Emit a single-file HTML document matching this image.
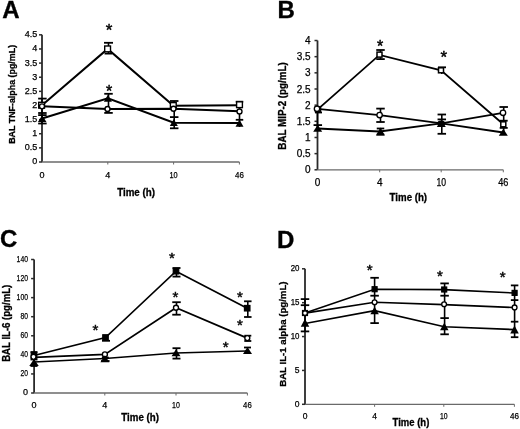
<!DOCTYPE html>
<html><head><meta charset="utf-8"><style>
html,body{margin:0;padding:0;background:#fff;}
body{width:520px;height:429px;overflow:hidden;}
svg{display:block;font-family:'Liberation Sans', sans-serif;will-change:transform;}
.tl{stroke:#000;stroke-width:0.25px;}
</style></head><body>
<svg width="520" height="429" viewBox="0 0 520 429">
<rect width="520" height="429" fill="#fff"/>
<text x="2.2" y="18.4" font-size="24" font-weight="bold" stroke="#000" stroke-width="0.35">A</text>
<line x1="42" y1="34.8" x2="42" y2="162" stroke="#2a2a2a" stroke-width="1.8"/>
<line x1="39" y1="162.0" x2="42" y2="162.0" stroke="#2a2a2a" stroke-width="1.5"/>
<text x="37.2" y="164.44" font-size="9" text-anchor="end" class="tl">0</text>
<line x1="39" y1="147.87" x2="42" y2="147.87" stroke="#2a2a2a" stroke-width="1.5"/>
<text x="37.2" y="150.31" font-size="9" text-anchor="end" class="tl">0.5</text>
<line x1="39" y1="133.74" x2="42" y2="133.74" stroke="#2a2a2a" stroke-width="1.5"/>
<text x="37.2" y="136.18" font-size="9" text-anchor="end" class="tl">1</text>
<line x1="39" y1="119.61" x2="42" y2="119.61" stroke="#2a2a2a" stroke-width="1.5"/>
<text x="37.2" y="122.05" font-size="9" text-anchor="end" class="tl">1.5</text>
<line x1="39" y1="105.48" x2="42" y2="105.48" stroke="#2a2a2a" stroke-width="1.5"/>
<text x="37.2" y="107.92" font-size="9" text-anchor="end" class="tl">2</text>
<line x1="39" y1="91.35" x2="42" y2="91.35" stroke="#2a2a2a" stroke-width="1.5"/>
<text x="37.2" y="93.79" font-size="9" text-anchor="end" class="tl">2.5</text>
<line x1="39" y1="77.22" x2="42" y2="77.22" stroke="#2a2a2a" stroke-width="1.5"/>
<text x="37.2" y="79.66" font-size="9" text-anchor="end" class="tl">3</text>
<line x1="39" y1="63.09" x2="42" y2="63.09" stroke="#2a2a2a" stroke-width="1.5"/>
<text x="37.2" y="65.53" font-size="9" text-anchor="end" class="tl">3.5</text>
<line x1="39" y1="48.96" x2="42" y2="48.96" stroke="#2a2a2a" stroke-width="1.5"/>
<text x="37.2" y="51.40" font-size="9" text-anchor="end" class="tl">4</text>
<line x1="39" y1="34.83" x2="42" y2="34.83" stroke="#2a2a2a" stroke-width="1.5"/>
<text x="37.2" y="37.27" font-size="9" text-anchor="end" class="tl">4.5</text>
<line x1="42" y1="162" x2="239.4" y2="162" stroke="#6a6a6a" stroke-width="1.3"/>
<line x1="107.8" y1="162" x2="107.8" y2="164.5" stroke="#6a6a6a" stroke-width="1"/>
<line x1="173.6" y1="162" x2="173.6" y2="164.5" stroke="#6a6a6a" stroke-width="1"/>
<line x1="239.4" y1="162" x2="239.4" y2="164.5" stroke="#6a6a6a" stroke-width="1"/>
<text x="42" y="177.5" font-size="9" text-anchor="middle" class="tl">0</text>
<text x="107.8" y="177.5" font-size="9" text-anchor="middle" class="tl">4</text>
<text x="173.6" y="177.5" font-size="9" text-anchor="middle" class="tl" textLength="8.2" lengthAdjust="spacingAndGlyphs">10</text>
<text x="239.4" y="177.5" font-size="9" text-anchor="middle" class="tl" textLength="8.8" lengthAdjust="spacingAndGlyphs">46</text>
<text transform="translate(14.7,143.8) rotate(-90)" font-size="9.3" font-weight="bold" textLength="98.9" lengthAdjust="spacingAndGlyphs" stroke="#000" stroke-width="0.3">BAL TNF-alpha (pg/mL)</text>
<text x="117.2" y="195.8" font-size="10" font-weight="bold" textLength="37.8" lengthAdjust="spacingAndGlyphs" stroke="#000" stroke-width="0.3">Time (h)</text>
<line x1="42" y1="98.6" x2="42" y2="123.5" stroke="#000" stroke-width="1.6"/>
<line x1="38.15" y1="98.6" x2="46.65" y2="98.6" stroke="#000" stroke-width="1.8"/>
<line x1="38.15" y1="113" x2="46.65" y2="113" stroke="#000" stroke-width="1.8"/>
<line x1="38.15" y1="115.1" x2="46.65" y2="115.1" stroke="#000" stroke-width="1.8"/>
<line x1="38.15" y1="123.5" x2="46.65" y2="123.5" stroke="#000" stroke-width="1.8"/>
<line x1="108.5" y1="42.8" x2="108.5" y2="53.6" stroke="#000" stroke-width="1.6"/>
<line x1="104.0" y1="42.8" x2="113.0" y2="42.8" stroke="#000" stroke-width="1.8"/>
<line x1="104.55" y1="53.6" x2="112.05" y2="53.6" stroke="#000" stroke-width="1.8"/>
<line x1="108.5" y1="93.8" x2="108.5" y2="113" stroke="#000" stroke-width="1.6"/>
<line x1="104.25" y1="93.8" x2="112.75" y2="93.8" stroke="#000" stroke-width="1.8"/>
<line x1="104.25" y1="112.9" x2="112.75" y2="112.9" stroke="#000" stroke-width="1.8"/>
<line x1="174.2" y1="101" x2="174.2" y2="128.3" stroke="#000" stroke-width="1.6"/>
<line x1="169.95" y1="101" x2="178.45" y2="101" stroke="#000" stroke-width="1.8"/>
<line x1="169.95" y1="117.1" x2="178.45" y2="117.1" stroke="#000" stroke-width="1.8"/>
<line x1="169.95" y1="128.3" x2="178.45" y2="128.3" stroke="#000" stroke-width="1.8"/>
<line x1="239.5" y1="101.7" x2="239.5" y2="127" stroke="#000" stroke-width="1.6"/>
<line x1="235.75" y1="101.7" x2="243.25" y2="101.7" stroke="#000" stroke-width="1.8"/>
<line x1="235.75" y1="119.8" x2="243.25" y2="119.8" stroke="#000" stroke-width="1.8"/>
<polyline points="42,105.2 107.6,48.9 173.5,105.7 239.5,105.2" fill="none" stroke="#000" stroke-width="2" stroke-linejoin="miter"/>
<polyline points="42,106.3 107.5,109 173.5,108.7 239.5,111.3" fill="none" stroke="#000" stroke-width="2" stroke-linejoin="miter"/>
<polyline points="42,118.5 107.9,98.2 173.8,122.8 239.5,123" fill="none" stroke="#000" stroke-width="2" stroke-linejoin="miter"/>
<rect x="38.7" y="102.3" width="5.8" height="5.8" fill="#fff" stroke="#000" stroke-width="1.4"/>
<rect x="104.7" y="46.0" width="5.8" height="5.8" fill="#fff" stroke="#000" stroke-width="1.4"/>
<rect x="170.4" y="102.6" width="5.8" height="5.8" fill="#fff" stroke="#000" stroke-width="1.4"/>
<rect x="236.6" y="101.8" width="5.8" height="5.8" fill="#fff" stroke="#000" stroke-width="1.4"/>
<circle cx="42" cy="106.3" r="2.5" fill="#fff" stroke="#000" stroke-width="1.35"/>
<circle cx="107.5" cy="109" r="2.5" fill="#fff" stroke="#000" stroke-width="1.35"/>
<circle cx="173.5" cy="108.7" r="2.5" fill="#fff" stroke="#000" stroke-width="1.35"/>
<circle cx="239.5" cy="111.5" r="2.5" fill="#fff" stroke="#000" stroke-width="1.35"/>
<polygon points="42.2,115.3 46.45,122.1 37.95,122.1" fill="#000"/>
<polygon points="107.9,94.7 111.9,101.7 103.9,101.7" fill="#000"/>
<polygon points="173.8,119.1 177.8,126.1 169.8,126.1" fill="#000"/>
<polygon points="239.5,119.7 243.5,126.7 235.5,126.7" fill="#000"/>
<text x="109" y="36.04" font-size="17" text-anchor="middle" stroke="#000" stroke-width="0.45">*</text>
<text x="109" y="96.82" font-size="16" text-anchor="middle" stroke="#000" stroke-width="0.45">*</text>
<text x="277.6" y="18.4" font-size="24" font-weight="bold" stroke="#000" stroke-width="0.35">B</text>
<line x1="317.5" y1="40.5" x2="317.5" y2="169.8" stroke="#2a2a2a" stroke-width="1.8"/>
<line x1="314.5" y1="169.8" x2="317.5" y2="169.8" stroke="#2a2a2a" stroke-width="1.5"/>
<text x="310.6" y="173.40" font-size="10" text-anchor="end" class="tl">0</text>
<line x1="314.5" y1="153.64" x2="317.5" y2="153.64" stroke="#2a2a2a" stroke-width="1.5"/>
<text x="310.6" y="157.24" font-size="10" text-anchor="end" class="tl">0.5</text>
<line x1="314.5" y1="137.48" x2="317.5" y2="137.48" stroke="#2a2a2a" stroke-width="1.5"/>
<text x="310.6" y="141.08" font-size="10" text-anchor="end" class="tl">1</text>
<line x1="314.5" y1="121.32" x2="317.5" y2="121.32" stroke="#2a2a2a" stroke-width="1.5"/>
<text x="310.6" y="124.92" font-size="10" text-anchor="end" class="tl">1.5</text>
<line x1="314.5" y1="105.16" x2="317.5" y2="105.16" stroke="#2a2a2a" stroke-width="1.5"/>
<text x="310.6" y="108.76" font-size="10" text-anchor="end" class="tl">2</text>
<line x1="314.5" y1="89" x2="317.5" y2="89" stroke="#2a2a2a" stroke-width="1.5"/>
<text x="310.6" y="92.60" font-size="10" text-anchor="end" class="tl">2.5</text>
<line x1="314.5" y1="72.84" x2="317.5" y2="72.84" stroke="#2a2a2a" stroke-width="1.5"/>
<text x="310.6" y="76.44" font-size="10" text-anchor="end" class="tl">3</text>
<line x1="314.5" y1="56.68" x2="317.5" y2="56.68" stroke="#2a2a2a" stroke-width="1.5"/>
<text x="310.6" y="60.28" font-size="10" text-anchor="end" class="tl">3.5</text>
<line x1="314.5" y1="40.52" x2="317.5" y2="40.52" stroke="#2a2a2a" stroke-width="1.5"/>
<text x="310.6" y="44.12" font-size="10" text-anchor="end" class="tl">4</text>
<line x1="317.5" y1="169.8" x2="503.3" y2="169.8" stroke="#6a6a6a" stroke-width="1.3"/>
<line x1="379.7" y1="169.8" x2="379.7" y2="172.3" stroke="#6a6a6a" stroke-width="1"/>
<line x1="441.2" y1="169.8" x2="441.2" y2="172.3" stroke="#6a6a6a" stroke-width="1"/>
<line x1="503.3" y1="169.8" x2="503.3" y2="172.3" stroke="#6a6a6a" stroke-width="1"/>
<text x="317.5" y="186.4" font-size="10" text-anchor="middle" class="tl">0</text>
<text x="379.7" y="186.4" font-size="10" text-anchor="middle" class="tl">4</text>
<text x="441.2" y="186.4" font-size="10" text-anchor="middle" class="tl" textLength="9.6" lengthAdjust="spacingAndGlyphs">10</text>
<text x="503.3" y="186.4" font-size="10" text-anchor="middle" class="tl" textLength="10.2" lengthAdjust="spacingAndGlyphs">46</text>
<text transform="translate(286,149.7) rotate(-90)" font-size="10" font-weight="bold" textLength="87.5" lengthAdjust="spacingAndGlyphs" stroke="#000" stroke-width="0.3">BAL MIP-2 (pg/mL)</text>
<text x="389.6" y="201" font-size="10" font-weight="bold" textLength="37.5" lengthAdjust="spacingAndGlyphs" stroke="#000" stroke-width="0.3">Time (h)</text>
<line x1="317.5" y1="105.5" x2="317.5" y2="131" stroke="#000" stroke-width="1.6"/>
<line x1="315.0" y1="112.5" x2="322.0" y2="112.5" stroke="#000" stroke-width="1.8"/>
<line x1="313.55" y1="125.1" x2="322.05" y2="125.1" stroke="#000" stroke-width="1.8"/>
<line x1="380.5" y1="50" x2="380.5" y2="59.1" stroke="#000" stroke-width="1.6"/>
<line x1="376.25" y1="50" x2="384.75" y2="50" stroke="#000" stroke-width="1.8"/>
<line x1="376.25" y1="59.1" x2="384.75" y2="59.1" stroke="#000" stroke-width="1.8"/>
<line x1="380.5" y1="108.6" x2="380.5" y2="122" stroke="#000" stroke-width="1.6"/>
<line x1="376.25" y1="108.6" x2="384.75" y2="108.6" stroke="#000" stroke-width="1.8"/>
<line x1="376.25" y1="122" x2="384.75" y2="122" stroke="#000" stroke-width="1.8"/>
<line x1="380.5" y1="128.5" x2="380.5" y2="134.5" stroke="#000" stroke-width="1.6"/>
<line x1="376.75" y1="128.5" x2="384.25" y2="128.5" stroke="#000" stroke-width="1.8"/>
<line x1="376.75" y1="134.5" x2="384.25" y2="134.5" stroke="#000" stroke-width="1.8"/>
<line x1="441.8" y1="67.3" x2="441.8" y2="74" stroke="#000" stroke-width="1.6"/>
<line x1="438.0" y1="67.3" x2="446.0" y2="67.3" stroke="#000" stroke-width="1.8"/>
<line x1="441.8" y1="114.5" x2="441.8" y2="133.8" stroke="#000" stroke-width="1.6"/>
<line x1="437.55" y1="114.5" x2="446.05" y2="114.5" stroke="#000" stroke-width="1.8"/>
<line x1="437.55" y1="119.4" x2="446.05" y2="119.4" stroke="#000" stroke-width="1.8"/>
<line x1="437.55" y1="133.8" x2="446.05" y2="133.8" stroke="#000" stroke-width="1.8"/>
<line x1="503.7" y1="107" x2="503.7" y2="134" stroke="#000" stroke-width="1.6"/>
<line x1="499.45" y1="107" x2="507.95" y2="107" stroke="#000" stroke-width="1.8"/>
<line x1="499.7" y1="120.7" x2="507.7" y2="120.7" stroke="#000" stroke-width="1.8"/>
<line x1="499.7" y1="127.9" x2="507.7" y2="127.9" stroke="#000" stroke-width="1.8"/>
<polyline points="318,109.2 379.5,54.9 441,70.3 503.3,124.3" fill="none" stroke="#000" stroke-width="1.8" stroke-linejoin="miter"/>
<polyline points="317.5,108.8 379.6,115.1 441.3,123.4 503,112.8" fill="none" stroke="#000" stroke-width="1.8" stroke-linejoin="miter"/>
<polyline points="317.5,128.5 379.6,131.5 441.3,123.4 503.3,132.5" fill="none" stroke="#000" stroke-width="1.8" stroke-linejoin="miter"/>
<rect x="315.5" y="106.7" width="5.0" height="5.0" fill="#fff" stroke="#000" stroke-width="1.5"/>
<rect x="377.0" y="52.1" width="5.0" height="5.0" fill="#fff" stroke="#000" stroke-width="1.5"/>
<rect x="438.5" y="67.8" width="5.0" height="5.0" fill="#fff" stroke="#000" stroke-width="1.5"/>
<rect x="500.8" y="121.8" width="5.0" height="5.0" fill="#fff" stroke="#000" stroke-width="1.5"/>
<circle cx="317" cy="108.8" r="2.7" fill="#fff" stroke="#000" stroke-width="1.35"/>
<circle cx="379.6" cy="115" r="2.7" fill="#fff" stroke="#000" stroke-width="1.35"/>
<circle cx="503" cy="112.8" r="2.7" fill="#fff" stroke="#000" stroke-width="1.35"/>
<polygon points="317.7,124.7 322.2,131.7 313.2,131.7" fill="#000"/>
<polygon points="380.4,127.6 384.9,135.6 375.9,135.6" fill="#000"/>
<polygon points="441.3,119.9 445.8,126.9 436.8,126.9" fill="#000"/>
<polygon points="503.3,128.8 507.8,135.8 498.8,135.8" fill="#000"/>
<ellipse cx="441.2" cy="123.6" rx="4" ry="3.1" fill="#000"/>
<text x="380" y="51.72" font-size="16" text-anchor="middle" stroke="#000" stroke-width="0.45">*</text>
<text x="443.9" y="63.14" font-size="17" text-anchor="middle" stroke="#000" stroke-width="0.45">*</text>
<text x="0" y="246.8" font-size="24" font-weight="bold" stroke="#000" stroke-width="0.35">C</text>
<line x1="34.1" y1="259.5" x2="34.1" y2="393" stroke="#2a2a2a" stroke-width="1.8"/>
<line x1="31.1" y1="393.0" x2="34.1" y2="393.0" stroke="#2a2a2a" stroke-width="1.5"/>
<text x="28" y="395.44" font-size="9" text-anchor="end" class="tl">0</text>
<line x1="31.1" y1="373.93" x2="34.1" y2="373.93" stroke="#2a2a2a" stroke-width="1.5"/>
<text x="28" y="376.37" font-size="9" text-anchor="end" class="tl" textLength="7.5" lengthAdjust="spacingAndGlyphs">20</text>
<line x1="31.1" y1="354.86" x2="34.1" y2="354.86" stroke="#2a2a2a" stroke-width="1.5"/>
<text x="28" y="357.30" font-size="9" text-anchor="end" class="tl" textLength="7.5" lengthAdjust="spacingAndGlyphs">40</text>
<line x1="31.1" y1="335.78" x2="34.1" y2="335.78" stroke="#2a2a2a" stroke-width="1.5"/>
<text x="28" y="338.22" font-size="9" text-anchor="end" class="tl" textLength="7.5" lengthAdjust="spacingAndGlyphs">60</text>
<line x1="31.1" y1="316.71" x2="34.1" y2="316.71" stroke="#2a2a2a" stroke-width="1.5"/>
<text x="28" y="319.15" font-size="9" text-anchor="end" class="tl" textLength="7.5" lengthAdjust="spacingAndGlyphs">80</text>
<line x1="31.1" y1="297.64" x2="34.1" y2="297.64" stroke="#2a2a2a" stroke-width="1.5"/>
<text x="28" y="300.08" font-size="9" text-anchor="end" class="tl" textLength="11.4" lengthAdjust="spacingAndGlyphs">100</text>
<line x1="31.1" y1="278.57" x2="34.1" y2="278.57" stroke="#2a2a2a" stroke-width="1.5"/>
<text x="28" y="281.01" font-size="9" text-anchor="end" class="tl" textLength="11.4" lengthAdjust="spacingAndGlyphs">120</text>
<line x1="31.1" y1="259.5" x2="34.1" y2="259.5" stroke="#2a2a2a" stroke-width="1.5"/>
<text x="28" y="261.94" font-size="9" text-anchor="end" class="tl" textLength="11.4" lengthAdjust="spacingAndGlyphs">140</text>
<line x1="34" y1="393" x2="247.4" y2="393" stroke="#6a6a6a" stroke-width="1.3"/>
<line x1="104.8" y1="393" x2="104.8" y2="395.5" stroke="#6a6a6a" stroke-width="1"/>
<line x1="176" y1="393" x2="176" y2="395.5" stroke="#6a6a6a" stroke-width="1"/>
<line x1="247.4" y1="393" x2="247.4" y2="395.5" stroke="#6a6a6a" stroke-width="1"/>
<text x="34" y="408" font-size="9" text-anchor="middle" class="tl">0</text>
<text x="104.8" y="408" font-size="9" text-anchor="middle" class="tl">4</text>
<text x="176" y="408" font-size="9" text-anchor="middle" class="tl" textLength="7.8" lengthAdjust="spacingAndGlyphs">10</text>
<text x="247.4" y="408" font-size="9" text-anchor="middle" class="tl" textLength="8.6" lengthAdjust="spacingAndGlyphs">46</text>
<text transform="translate(9.6,361.8) rotate(-90)" font-size="10" font-weight="bold" textLength="77.0" lengthAdjust="spacingAndGlyphs" stroke="#000" stroke-width="0.3">BAL IL-6 (pg/mL)</text>
<text x="121.3" y="420.8" font-size="10" font-weight="bold" textLength="37.6" lengthAdjust="spacingAndGlyphs" stroke="#000" stroke-width="0.3">Time (h)</text>
<line x1="34" y1="352" x2="34" y2="366" stroke="#000" stroke-width="1.6"/>
<line x1="30.5" y1="352" x2="37.5" y2="352" stroke="#000" stroke-width="1.8"/>
<line x1="30.5" y1="359.5" x2="37.5" y2="359.5" stroke="#000" stroke-width="1.8"/>
<line x1="30.5" y1="366" x2="37.5" y2="366" stroke="#000" stroke-width="1.8"/>
<line x1="176.5" y1="268" x2="176.5" y2="276.6" stroke="#000" stroke-width="1.6"/>
<line x1="172.5" y1="268" x2="180.5" y2="268" stroke="#000" stroke-width="1.8"/>
<line x1="172.5" y1="276.6" x2="180.5" y2="276.6" stroke="#000" stroke-width="1.8"/>
<line x1="176.5" y1="302.2" x2="176.5" y2="314.7" stroke="#000" stroke-width="1.6"/>
<line x1="172.25" y1="302.2" x2="180.75" y2="302.2" stroke="#000" stroke-width="1.8"/>
<line x1="172.25" y1="314.7" x2="180.75" y2="314.7" stroke="#000" stroke-width="1.8"/>
<line x1="176.5" y1="348.2" x2="176.5" y2="358.6" stroke="#000" stroke-width="1.6"/>
<line x1="172.5" y1="348.2" x2="180.5" y2="348.2" stroke="#000" stroke-width="1.8"/>
<line x1="172.5" y1="358.6" x2="180.5" y2="358.6" stroke="#000" stroke-width="1.8"/>
<line x1="247.8" y1="301.3" x2="247.8" y2="317" stroke="#000" stroke-width="1.6"/>
<line x1="244.05" y1="301.3" x2="251.55" y2="301.3" stroke="#000" stroke-width="1.8"/>
<line x1="244.05" y1="317" x2="251.55" y2="317" stroke="#000" stroke-width="1.8"/>
<line x1="247.8" y1="335.7" x2="247.8" y2="341" stroke="#000" stroke-width="1.6"/>
<line x1="244.3" y1="335.7" x2="251.3" y2="335.7" stroke="#000" stroke-width="1.8"/>
<line x1="244.3" y1="341" x2="251.3" y2="341" stroke="#000" stroke-width="1.8"/>
<line x1="244.0" y1="347.5" x2="251.0" y2="347.5" stroke="#000" stroke-width="1.8"/>
<line x1="102.0" y1="340.8" x2="110.0" y2="340.8" stroke="#000" stroke-width="1.8"/>
<line x1="101.8" y1="357.6" x2="108.8" y2="357.6" stroke="#000" stroke-width="1.8"/>
<line x1="101.05" y1="361" x2="109.55" y2="361" stroke="#000" stroke-width="1.8"/>
<polyline points="34,355.5 105.5,337.5 176,271.2 247.2,308.2" fill="none" stroke="#000" stroke-width="1.7" stroke-linejoin="miter"/>
<polyline points="34,357.3 104.9,354.4 176,307.7 247.3,338.1" fill="none" stroke="#000" stroke-width="1.7" stroke-linejoin="miter"/>
<polyline points="34,362 104.9,358.5 176,353 247,351" fill="none" stroke="#000" stroke-width="1.7" stroke-linejoin="miter"/>
<rect x="31.25" y="352.75" width="5.5" height="5.5" fill="#000" stroke="#000" stroke-width="1.2"/>
<rect x="102.75" y="334.75" width="5.5" height="5.5" fill="#000" stroke="#000" stroke-width="1.2"/>
<rect x="173.25" y="268.45" width="5.5" height="5.5" fill="#000" stroke="#000" stroke-width="1.2"/>
<rect x="244.45" y="305.45" width="5.5" height="5.5" fill="#000" stroke="#000" stroke-width="1.2"/>
<circle cx="33.5" cy="356.8" r="2.5" fill="#fff" stroke="#000" stroke-width="1.35"/>
<circle cx="104.9" cy="354.4" r="2.5" fill="#fff" stroke="#000" stroke-width="1.35"/>
<circle cx="176" cy="307.7" r="2.5" fill="#fff" stroke="#000" stroke-width="1.35"/>
<circle cx="247.3" cy="338.1" r="2.5" fill="#fff" stroke="#000" stroke-width="1.35"/>
<polygon points="34,359.0 38.75,366.0 29.25,366.0" fill="#000"/>
<polygon points="104.9,355.2 109.4,362.2 100.4,362.2" fill="#000"/>
<polygon points="176,349.3 180.5,356.3 171.5,356.3" fill="#000"/>
<polygon points="247.5,347.1 252.0,354.1 243.0,354.1" fill="#000"/>
<text x="95.4" y="335.30" font-size="15" text-anchor="middle" stroke="#000" stroke-width="0.45">*</text>
<text x="171.9" y="263.40" font-size="15" text-anchor="middle" stroke="#000" stroke-width="0.45">*</text>
<text x="175.4" y="302.10" font-size="15" text-anchor="middle" stroke="#000" stroke-width="0.45">*</text>
<text x="240" y="301.90" font-size="15" text-anchor="middle" stroke="#000" stroke-width="0.45">*</text>
<text x="239.8" y="330.30" font-size="15" text-anchor="middle" stroke="#000" stroke-width="0.45">*</text>
<text x="225.7" y="351.70" font-size="15" text-anchor="middle" stroke="#000" stroke-width="0.45">*</text>
<text x="276.9" y="247.5" font-size="24" font-weight="bold" stroke="#000" stroke-width="0.35">D</text>
<line x1="305" y1="268.8" x2="305" y2="404.3" stroke="#2a2a2a" stroke-width="1.8"/>
<line x1="302" y1="404.3" x2="305" y2="404.3" stroke="#2a2a2a" stroke-width="1.5"/>
<text x="299.5" y="406.56" font-size="8.5" text-anchor="end" class="tl">0</text>
<line x1="302" y1="370.43" x2="305" y2="370.43" stroke="#2a2a2a" stroke-width="1.5"/>
<text x="299.5" y="372.69" font-size="8.5" text-anchor="end" class="tl">5</text>
<line x1="302" y1="336.55" x2="305" y2="336.55" stroke="#2a2a2a" stroke-width="1.5"/>
<text x="299.5" y="338.81" font-size="8.5" text-anchor="end" class="tl" textLength="8.8" lengthAdjust="spacingAndGlyphs">10</text>
<line x1="302" y1="302.68" x2="305" y2="302.68" stroke="#2a2a2a" stroke-width="1.5"/>
<text x="299.5" y="304.94" font-size="8.5" text-anchor="end" class="tl" textLength="8.8" lengthAdjust="spacingAndGlyphs">15</text>
<line x1="302" y1="268.8" x2="305" y2="268.8" stroke="#2a2a2a" stroke-width="1.5"/>
<text x="299.5" y="271.06" font-size="8.5" text-anchor="end" class="tl" textLength="8.8" lengthAdjust="spacingAndGlyphs">20</text>
<line x1="305" y1="404.3" x2="514.4" y2="404.3" stroke="#6a6a6a" stroke-width="1.3"/>
<line x1="374.6" y1="404.3" x2="374.6" y2="406.8" stroke="#6a6a6a" stroke-width="1"/>
<line x1="443.8" y1="404.3" x2="443.8" y2="406.8" stroke="#6a6a6a" stroke-width="1"/>
<line x1="514.4" y1="404.3" x2="514.4" y2="406.8" stroke="#6a6a6a" stroke-width="1"/>
<text x="305" y="418.5" font-size="8.5" text-anchor="middle" class="tl">0</text>
<text x="374.6" y="418.5" font-size="8.5" text-anchor="middle" class="tl">4</text>
<text x="443.8" y="418.5" font-size="8.5" text-anchor="middle" class="tl" textLength="7.6" lengthAdjust="spacingAndGlyphs">10</text>
<text x="514.4" y="418.5" font-size="8.5" text-anchor="middle" class="tl" textLength="9" lengthAdjust="spacingAndGlyphs">46</text>
<text transform="translate(286,386.8) rotate(-90)" font-size="9.8" font-weight="bold" textLength="105.3" lengthAdjust="spacingAndGlyphs" stroke="#000" stroke-width="0.3">BAL IL-1 alpha (pg/mL)</text>
<text x="392.6" y="426.2" font-size="10" font-weight="bold" textLength="36.7" lengthAdjust="spacingAndGlyphs" stroke="#000" stroke-width="0.3">Time (h)</text>
<line x1="305" y1="299.1" x2="305" y2="331.4" stroke="#000" stroke-width="1.6"/>
<line x1="300.75" y1="299.1" x2="309.25" y2="299.1" stroke="#000" stroke-width="1.8"/>
<line x1="300.75" y1="305.2" x2="309.25" y2="305.2" stroke="#000" stroke-width="1.8"/>
<line x1="300.75" y1="331.4" x2="309.25" y2="331.4" stroke="#000" stroke-width="1.8"/>
<line x1="374.6" y1="277.8" x2="374.6" y2="323.1" stroke="#000" stroke-width="1.6"/>
<line x1="370.35" y1="277.8" x2="378.85" y2="277.8" stroke="#000" stroke-width="1.8"/>
<line x1="370.35" y1="295.7" x2="378.85" y2="295.7" stroke="#000" stroke-width="1.8"/>
<line x1="370.35" y1="323.1" x2="378.85" y2="323.1" stroke="#000" stroke-width="1.8"/>
<line x1="444.6" y1="283.4" x2="444.6" y2="334.3" stroke="#000" stroke-width="1.6"/>
<line x1="440.35" y1="283.4" x2="448.85" y2="283.4" stroke="#000" stroke-width="1.8"/>
<line x1="440.35" y1="295.7" x2="448.85" y2="295.7" stroke="#000" stroke-width="1.8"/>
<line x1="440.35" y1="318.1" x2="448.85" y2="318.1" stroke="#000" stroke-width="1.8"/>
<line x1="440.35" y1="334.3" x2="448.85" y2="334.3" stroke="#000" stroke-width="1.8"/>
<line x1="514.6" y1="285.4" x2="514.6" y2="337.2" stroke="#000" stroke-width="1.6"/>
<line x1="510.85" y1="285.4" x2="518.35" y2="285.4" stroke="#000" stroke-width="1.8"/>
<line x1="510.85" y1="300.1" x2="518.35" y2="300.1" stroke="#000" stroke-width="1.8"/>
<line x1="510.85" y1="321.7" x2="518.35" y2="321.7" stroke="#000" stroke-width="1.8"/>
<line x1="510.85" y1="337.2" x2="518.35" y2="337.2" stroke="#000" stroke-width="1.8"/>
<polyline points="305,313 374.6,289.3 443.7,289.6 514.6,293" fill="none" stroke="#000" stroke-width="1.6" stroke-linejoin="miter"/>
<polyline points="305,313.1 374.6,302.2 443.9,304.6 514.6,307.6" fill="none" stroke="#000" stroke-width="1.6" stroke-linejoin="miter"/>
<polyline points="305,323.5 374.6,310.6 444.3,326.8 514.6,329.6" fill="none" stroke="#000" stroke-width="1.6" stroke-linejoin="miter"/>
<rect x="302.5" y="310.5" width="5" height="5" fill="#000" stroke="#000" stroke-width="1.2"/>
<rect x="372.1" y="286.7" width="5" height="5" fill="#000" stroke="#000" stroke-width="1.2"/>
<rect x="441.7" y="287.0" width="5" height="5" fill="#000" stroke="#000" stroke-width="1.2"/>
<rect x="512.1" y="290.4" width="5" height="5" fill="#000" stroke="#000" stroke-width="1.2"/>
<circle cx="305" cy="313.1" r="2.4" fill="#fff" stroke="#000" stroke-width="1.35"/>
<circle cx="374.6" cy="302.2" r="2.4" fill="#fff" stroke="#000" stroke-width="1.35"/>
<circle cx="444.1" cy="304.2" r="2.4" fill="#fff" stroke="#000" stroke-width="1.35"/>
<circle cx="514.6" cy="307.4" r="2.4" fill="#fff" stroke="#000" stroke-width="1.35"/>
<polygon points="305,318.8 309.25,326.8 300.75,326.8" fill="#000"/>
<polygon points="374.6,306.85 378.85,314.35 370.35,314.35" fill="#000"/>
<polygon points="444.3,322.85 448.55,330.35 440.05,330.35" fill="#000"/>
<polygon points="514.5,325.6 518.75,333.6 510.25,333.6" fill="#000"/>
<text x="369.7" y="275.20" font-size="15" text-anchor="middle" stroke="#000" stroke-width="0.45">*</text>
<text x="440" y="281.00" font-size="15" text-anchor="middle" stroke="#000" stroke-width="0.45">*</text>
<text x="502.7" y="281.90" font-size="15" text-anchor="middle" stroke="#000" stroke-width="0.45">*</text>
</svg>
</body></html>
